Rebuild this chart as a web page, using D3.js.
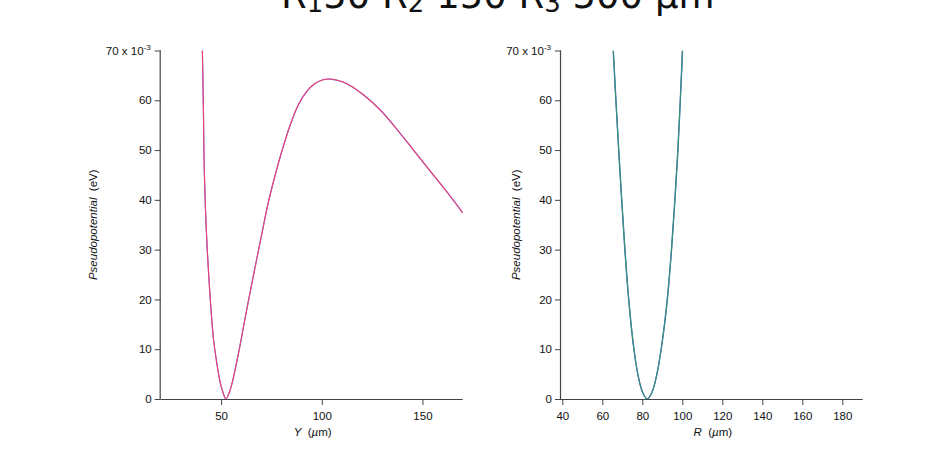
<!DOCTYPE html>
<html>
<head>
<meta charset="utf-8">
<script src="https://cdn.jsdelivr.net/npm/d3@7/dist/d3.min.js"></script>
<style>
  html, body { margin: 0; padding: 0; background: #fff; }
  svg { display: block; }
</style>
</head>
<body>
<svg id="chart" width="935" height="456"></svg>
<script>
// ---- data (potential in units of 10^-3 eV) ----
const yTicks = [0, 10, 20, 30, 40, 50, 60, 70];
const leftXTicks = [50, 100, 150];
const rightXTicks = [40, 60, 80, 100, 120, 140, 160, 180];

const leftY = [40.7, 41.19, 41.69, 42.89, 44.88, 46.27, 48.01, 49.5, 51.04, 52.34, 53.98, 55.47, 57.46, 59.45, 61.94, 64.43, 67.41, 70.4, 73.38, 76.87, 80.35, 84.33, 88.31, 92.29, 96.27, 100.25, 104.23, 108.21, 112.69, 120.8, 129.1, 137.41, 145.67, 153.98, 162.29, 170.0];
const leftBlue = [70, 58.71, 45.39, 31.93, 18.54, 11.85, 6.83, 3.41, 1.21, 0, 1.21, 3.21, 6.83, 10.85, 16.27, 21.49, 27.52, 33.54, 39.37, 44.99, 50.01, 55.03, 59.05, 61.66, 63.27, 64.07, 64.27, 63.97, 63.27, 61.06, 58.04, 54.13, 49.95, 45.73, 41.53, 37.4];
const leftRed = [70, 58.71, 45.39, 31.93, 18.54, 11.85, 6.83, 3.41, 1.21, 0, 1.21, 3.21, 6.83, 10.85, 16.27, 21.49, 27.52, 33.54, 39.37, 44.99, 50.01, 55.03, 59.05, 61.66, 63.27, 64.07, 64.27, 63.97, 63.27, 61.06, 58.04, 54.13, 49.95, 45.73, 41.53, 37.4];

const rightR = [65.5, 66.8, 68.2, 69.7, 71.3, 73.2, 75.5, 78.0, 80.3, 82.5, 84.7, 87.2, 89.8, 92.5, 94.6, 96.3, 97.8, 99.0, 100.1];
const rightBlue = [70, 60, 50, 40, 30, 20, 11, 4.5, 1.2, 0, 1.2, 4.8, 11, 20, 30, 40, 50, 60, 70];
const rightGreen = [70, 60, 50, 40, 30, 20, 11, 4.5, 1.2, 0, 1.2, 4.8, 11, 20, 30, 40, 50, 60, 70];

const svg = d3.select("#chart");
const FONT = "'Liberation Sans', Arial, Helvetica, sans-serif";
const AX = "#444";

// ---- title (cut off at the top, as in the reference) ----
const title = svg.append("text")
  .attr("x", 281).attr("y", 8)
  .attr("font-family", "'DejaVu Sans', Verdana, sans-serif")
  .attr("font-size", 37).attr("fill", "#111");
title.append("tspan").text("R");
title.append("tspan").attr("font-size", 26).attr("dy", 4).text("1");
title.append("tspan").attr("dy", -4).text("50 R");
title.append("tspan").attr("font-size", 26).attr("dy", 4).text("2");
title.append("tspan").attr("dy", -4).text(" 150 R");
title.append("tspan").attr("font-size", 26).attr("dy", 4).text("3");
title.append("tspan").attr("dy", -4).text(" 500 µm");

function panel(opts) {
  const x = d3.scaleLinear().domain(opts.xDomain).range([opts.x0, opts.x1]);
  const y = d3.scaleLinear().domain([0, 70]).range([399, 50.5]);
  const g = svg.append("g");

  const clipId = "clip" + opts.id;
  svg.append("clipPath").attr("id", clipId)
    .append("rect").attr("x", opts.x0).attr("y", 50.5)
    .attr("width", opts.x1 - opts.x0).attr("height", 399 - 50.5);

  // y axis
  const yAxis = d3.axisLeft(y).tickValues(yTicks).tickSize(6).tickPadding(3)
    .tickFormat(d => d === 70 ? "" : d);
  const ya = g.append("g").attr("transform", `translate(${opts.x0},0)`).call(yAxis);
  ya.select(".domain").attr("d", `M-0.5,${y(70)}V${y(0)}`);
  // x axis
  const xAxis = d3.axisBottom(x).tickValues(opts.xTicks).tickSize(6).tickPadding(7);
  const xa = g.append("g").attr("transform", `translate(0,399)`).call(xAxis);
  xa.select(".domain").attr("d", `M${opts.x0},0.5H${opts.x1}`);

  [ya, xa].forEach(a => {
    a.selectAll(".domain").attr("stroke", AX).attr("stroke-width", 1.2);
    a.selectAll(".tick line").attr("stroke", AX);
    a.selectAll("text").attr("font-family", FONT).attr("font-size", 11.5).attr("fill", "#111");
  });

  // top tick label "70 x 10^-3"
  const t = g.append("text").attr("x", opts.x0 - 10).attr("y", y(70) + 4)
    .attr("text-anchor", "end").attr("font-family", FONT).attr("font-size", 11.5).attr("fill", "#111");
  t.append("tspan").text("70 x 10");
  t.append("tspan").attr("font-size", 8).attr("dy", -5).text("-3");

  // y title
  const yt = g.append("text")
    .attr("transform", `translate(${opts.yTitleX},${(y(0) + y(70)) / 2}) rotate(-90)`)
    .attr("text-anchor", "middle").attr("font-family", FONT).attr("font-size", 11.5).attr("fill", "#111");
  yt.append("tspan").attr("font-style", "italic").text("Pseudopotential");
  yt.append("tspan").text("\u00a0\u00a0(eV)");

  // x title
  const xt = g.append("text")
    .attr("x", (opts.x0 + opts.x1) / 2 + 1).attr("y", 436)
    .attr("text-anchor", "middle").attr("font-family", FONT).attr("font-size", 11.5).attr("fill", "#111");
  xt.append("tspan").attr("font-style", "italic").text(opts.xLabel);
  xt.append("tspan").text("\u00a0\u00a0(");
  xt.append("tspan").attr("font-style", "italic").text("µ");
  xt.append("tspan").text("m)");

  const line = d3.line().x(d => x(d[0])).y(d => y(d[1])).curve(d3.curveCatmullRom.alpha(0.5));
  const lg = svg.append("g").attr("clip-path", `url(#${clipId})`);
  opts.series.forEach(s => {
    lg.append("path")
      .datum(opts.xs.map((v, i) => [v, s.values[i]]))
      .attr("d", line).attr("fill", "none")
      .attr("stroke", s.color).attr("stroke-width", s.width).attr("opacity", s.opacity)
      .attr("stroke-linejoin", "round");
  });
}

panel({
  id: "L", x0: 160.7, x1: 462.7, xDomain: [20, 170], xTicks: leftXTicks, xLabel: "Y", xs: leftY, yTitleX: 97,
  series: [
    { values: leftBlue, color: "#7060e8", width: 1.2, opacity: 1 },
    { values: leftRed, color: "#f2406a", width: 1.1, opacity: 0.95 }
  ]
});
panel({
  id: "R", x0: 561, x1: 862.7, xDomain: [39.35, 190.2], xTicks: rightXTicks, xLabel: "R", xs: rightR, yTitleX: 520,
  series: [
    { values: rightBlue, color: "#3050d0", width: 1.4, opacity: 1 },
    { values: rightGreen, color: "#3aa060", width: 1.0, opacity: 0.95 }
  ]
});
</script>
</body>
</html>
